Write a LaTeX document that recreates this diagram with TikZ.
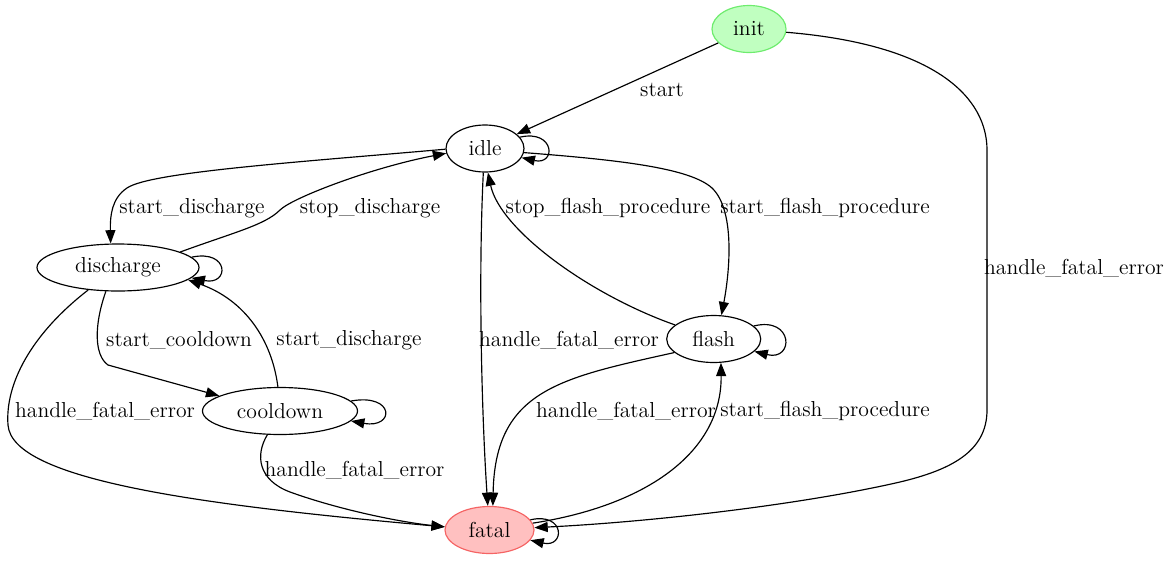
\documentclass[tikz,border=0pt]{standalone}
\usetikzlibrary{shapes.geometric,arrows.meta}
\definecolor{initfill}{RGB}{192,255,192}
\definecolor{initline}{RGB}{110,236,110}
\definecolor{fatalfill}{RGB}{255,192,192}
\definecolor{fatalline}{RGB}{245,100,100}
\begin{document}
\begin{tikzpicture}[x=0.6pt, y=-0.6pt, line width=0.7pt, >={Triangle[length=8pt,width=6pt]},
    font=\fontsize{13}{15}\selectfont,
    state/.style={ellipse, draw, inner sep=0pt, minimum height=28.2pt},
    lbl/.style={inner sep=0pt}]
    \useasboundingbox (0,0) rectangle (1167,560);

    % States
    \node[state, fill=initfill, draw=initline, minimum width=44.4pt] (init) at (749,29) {init};
    \node[state, minimum width=46.8pt] (idle) at (485,148.5) {idle};
    \node[state, minimum width=97.2pt] (discharge) at (118,267.5) {discharge};
    \node[state, minimum width=56.4pt] (flash) at (713.7,339) {flash};
    \node[state, minimum width=93pt] (cooldown) at (280,411) {cooldown};
    \node[state, fill=fatalfill, draw=fatalline, minimum width=53.4pt] (fatal) at (489.5,530) {fatal};

    % Transitions
    \draw[->] (init) -- (idle) node[lbl] (l1) at (662,90) {start};
    \draw[->] (idle.18) .. controls +(35,-8) and +(35,8) .. (idle.-14);
    \draw[->] (idle.181) .. controls (300,162) and (150,172) .. (127,188) .. controls (112,198) and (110,215) .. (discharge.107)
        node[lbl] (l2) at (192,208) {start\_discharge};
    \draw[->] (discharge.14) .. controls (235,232) and (265,225) .. (280,210) .. controls (292,198) and (370,168) .. (idle.187)
        node[lbl] (l3) at (370,208) {stop\_discharge};
    \draw[->] (idle.-6) .. controls (620,160) and (690,168) .. (712,188) .. controls (735,210) and (730,270) .. (flash.72)
        node[lbl] (l4) at (825,208) {start\_flash\_procedure};
    \draw[->] (flash.160) .. controls (590,295) and (500,230) .. (idle.-83)
        node[lbl] (l5) at (608,208) {stop\_flash\_procedure};
    \draw[->] (idle.-94) .. controls (478,280) and (482,420) .. (fatal.94)
        node[lbl] (l6) at (569,340) {handle\_fatal\_error};
    \draw[->] (discharge.8) .. controls +(38,-8) and +(38,8) .. (discharge.-8);
    \draw[->] (discharge.-117) .. controls (94,325) and (94,355) .. (108,365) -- (cooldown.166)
        node[lbl] (l7) at (179,340) {start\_cooldown};
    \draw[->] (cooldown.95) .. controls (272,340) and (245,300) .. (discharge.-10)
        node[lbl] (l8) at (349,340) {start\_discharge};
    \draw[->] (discharge.-143) .. controls (30,335) and (5,385) .. (8,425) .. controls (12,480) and (200,505) .. (fatal.176)
        node[lbl] (l9) at (105,411) {handle\_fatal\_error};
    \draw[->] (cooldown.8) .. controls +(44,-8) and +(44,8) .. (cooldown.-8);
    \draw[->] (cooldown.-118) .. controls (255,455) and (258,480) .. (290,492) .. controls (340,510) and (400,522) .. (fatal.176)
        node[lbl] (l10) at (354.5,470) {handle\_fatal\_error};
    \draw[->] (flash.18) .. controls +(40,-10) and +(40,10) .. (flash.-17);
    \draw[->] (flash.-161) .. controls (560,378) and (495,390) .. (fatal.82)
        node[lbl] (l11) at (626,411) {handle\_fatal\_error};
    \draw[->] (fatal.9) .. controls (650,505) and (722,450) .. (flash.-73)
        node[lbl] (l12) at (825,411) {start\_flash\_procedure};
    \draw[->] (init.-5) .. controls (940,45) and (987,100) .. (987,150) -- (987,410) .. controls (987,452) and (950,470) .. (900,482)
        .. controls (800,505) and (650,522) .. (fatal.3)
        node[lbl] (l13) at (1074,268) {handle\_fatal\_error};
    \draw[->] (fatal.14) .. controls +(35,-8) and +(35,8) .. (fatal.-14);
\end{tikzpicture}
\end{document}
